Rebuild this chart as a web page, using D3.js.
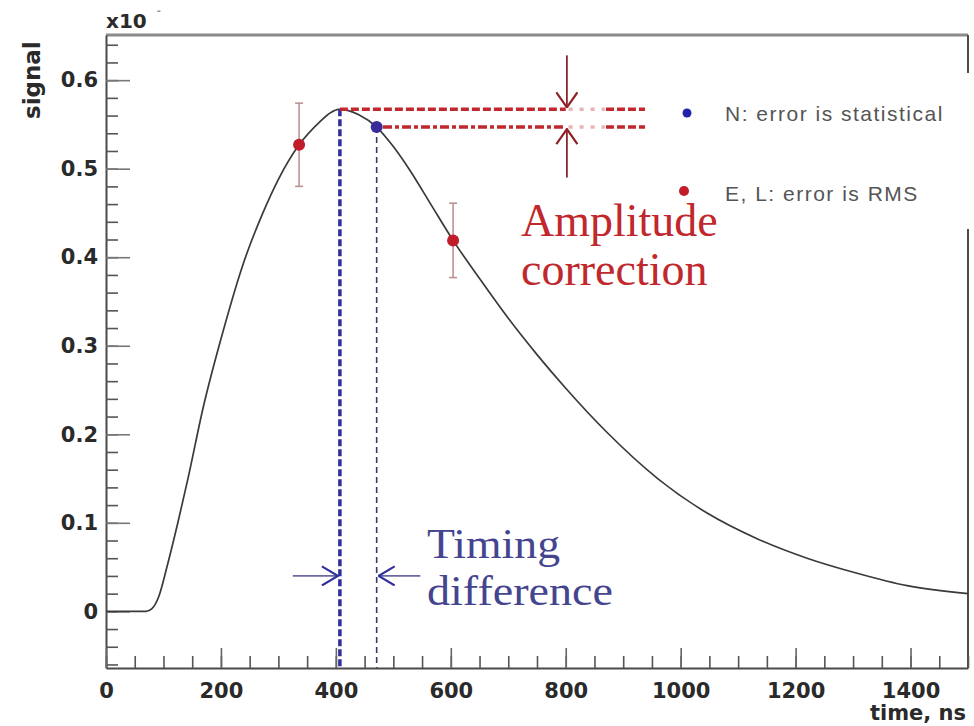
<!DOCTYPE html>
<html>
<head>
<meta charset="utf-8">
<script src="https://cdn.jsdelivr.net/npm/d3@7"></script>
<style>
  html, body { margin: 0; padding: 0; background: #fff; }
  svg { display: block; }
</style>
</head>
<body>
<div id="chart"></div>
<script>
(function () {
	// Signal shape (time in ns, signal in x10^-3)
	const timeNs = [0, 70, 80, 92, 106, 125, 143, 169, 204, 239, 273, 300, 336, 372, 390, 405, 440, 471, 500, 529, 565, 604, 651, 700, 750, 800, 872, 960, 1046, 1133, 1220, 1307, 1394, 1500];
	const signal = [0, 0, 0.003, 0.017, 0.05, 0.1, 0.151, 0.23, 0.317, 0.393, 0.45, 0.488, 0.527, 0.553, 0.563, 0.567, 0.561, 0.547, 0.525, 0.498, 0.46, 0.419, 0.375, 0.331, 0.29, 0.252, 0.202, 0.15, 0.111, 0.082, 0.06, 0.043, 0.029, 0.02];

	// E, L samples (error is RMS)
	const rmsT = [336, 604];
	const rmsV = [0.527, 0.419];
	const rmsErr = [0.047, 0.042];

	// N sample (statistical error)
	const statT = [471];
	const statV = [0.547];

	// fitted peak
	const peakT = 407;
	const peakV = 0.567;

	const xTicks = [0, 200, 400, 600, 800, 1000, 1200, 1400];
	const yTicks = [0, 0.1, 0.2, 0.3, 0.4, 0.5, 0.6];

	const RED = "#c0282d";
	const DARKRED = "#8e2228";
	const BLUE = "#2f2f9c";
	const INDIGO = "#45458f";
	const AXIS = "#4a4a4a";

	const width = 974, height = 726;
	const svg = d3.select("#chart").append("svg").attr("width", width).attr("height", height);

	const x = d3.scaleLinear().domain([0, 1500]).range([106, 968]);
	const y = d3.scaleLinear().domain([-0.064, 0.651]).range([668, 35]);

	const defs = svg.append("defs");
	// open V arrow heads
	function chevron(id, color, len, wide) {
		defs.append("marker")
			.attr("id", id)
			.attr("viewBox", `0 0 ${len + 2} ${wide + 2}`)
			.attr("refX", len + 1).attr("refY", wide / 2 + 1)
			.attr("markerWidth", len + 2).attr("markerHeight", wide + 2)
			.attr("markerUnits", "userSpaceOnUse")
			.attr("orient", "auto")
			.append("path")
			.attr("d", `M1,1 L${len + 1},${wide / 2 + 1} L1,${wide + 1}`)
			.attr("fill", "none")
			.attr("stroke", color)
			.attr("stroke-width", 2.2);
	}
	chevron("headRed", DARKRED, 15, 21);
	chevron("headBlue", BLUE, 16, 19);

	// frame
	const frame = svg.append("g").attr("stroke", AXIS).attr("stroke-width", 2).attr("fill", "none");
	frame.append("line").attr("x1", x(0)).attr("x2", x(1500)).attr("y1", y.range()[1]).attr("y2", y.range()[1]).attr("stroke", "#8a8a8a").attr("stroke-width", 3);
	frame.append("line").attr("x1", x(1500)).attr("x2", x(1500)).attr("y1", y.range()[1]).attr("y2", y(0.608));
	frame.append("line").attr("x1", x(1500)).attr("x2", x(1500)).attr("y1", y(0.432)).attr("y2", y.range()[0]);

	const tickFont = "'DejaVu Sans', sans-serif";

	// y axis: minor then major
	const yMinor = d3.range(-0.06, 0.645, 0.02).map(v => +v.toFixed(2));
	svg.append("g").attr("transform", `translate(${x(0)},0)`)
		.call(d3.axisLeft(y).tickValues(yMinor).tickSize(-12).tickSizeOuter(0).tickFormat(""))
		.call(g => g.selectAll("line").attr("stroke", "#555").attr("stroke-width", 1.6))
		.call(g => g.select(".domain").attr("stroke", AXIS).attr("stroke-width", 2));
	svg.append("g").attr("transform", `translate(${x(0)},0)`)
		.call(d3.axisLeft(y).tickValues(yTicks).tickSize(-24).tickSizeOuter(0).tickPadding(8).tickFormat(d => d === 0 ? "0" : d3.format(".1f")(d)))
		.call(g => g.select(".domain").remove())
		.call(g => g.selectAll("line").attr("stroke", "#777").attr("stroke-width", 1.6))
		.call(g => g.selectAll("text").attr("font-family", tickFont).attr("font-weight", "bold").attr("font-size", 21).attr("fill", "#2a2a2a"));

	// x axis
	const xMinor = d3.range(0, 1501, 50);
	svg.append("g").attr("transform", `translate(0,${y.range()[0]})`)
		.call(d3.axisBottom(x).tickValues(xMinor).tickSize(-12).tickSizeOuter(0).tickFormat(""))
		.call(g => g.selectAll("line").attr("stroke", "#555").attr("stroke-width", 1.6))
		.call(g => g.select(".domain").attr("stroke", AXIS).attr("stroke-width", 2));
	svg.append("g").attr("transform", `translate(0,${y.range()[0]})`)
		.call(d3.axisBottom(x).tickValues(xTicks).tickSize(-20).tickSizeOuter(0).tickPadding(15).tickFormat(d3.format("d")))
		.call(g => g.select(".domain").remove())
		.call(g => g.selectAll("line").attr("stroke", "#666").attr("stroke-width", 1.6))
		.call(g => g.selectAll("text").attr("font-family", tickFont).attr("font-weight", "bold").attr("font-size", 21).attr("fill", "#2a2a2a"));

	// axis titles
	svg.append("text")
		.attr("transform", `translate(${x(0) - 66},${y(0.6)}) rotate(-90)`)
		.attr("text-anchor", "middle")
		.attr("font-family", tickFont).attr("font-weight", "bold").attr("font-size", 23)
		.attr("fill", "#2a2a2a")
		.text("signal");

	svg.append("text")
		.attr("x", 966).attr("y", 720)
		.attr("text-anchor", "end")
		.attr("font-family", tickFont).attr("font-weight", "bold").attr("font-size", 21)
		.attr("fill", "#2a2a2a")
		.text("time, ns");

	const exp = svg.append("text")
		.attr("x", x(0)).attr("y", 28)
		.attr("font-family", tickFont).attr("font-weight", "bold").attr("font-size", 20)
		.attr("fill", "#2a2a2a");
	exp.append("tspan").text("x10");
	exp.append("tspan").attr("dx", 10).attr("dy", -14).attr("font-size", 10).attr("fill", "#999").text("-");

	// signal curve
	const line = d3.line().x(d => x(d[0])).y(d => y(d[1])).curve(d3.curveMonotoneX);
	svg.append("path")
		.datum(d3.zip(timeNs, signal))
		.attr("d", line)
		.attr("fill", "none")
		.attr("stroke", "#3a3a3a")
		.attr("stroke-width", 1.7);

	// timing lines (blue verticals)
	svg.append("line")
		.attr("x1", x(peakT)).attr("x2", x(peakT))
		.attr("y1", y(peakV)).attr("y2", y.range()[0])
		.attr("stroke", BLUE).attr("stroke-width", 3.5)
		.attr("stroke-dasharray", "7,3");
	svg.append("line")
		.attr("x1", x(statT[0])).attr("x2", x(statT[0]))
		.attr("y1", y(statV[0])).attr("y2", y.range()[0])
		.attr("stroke", "#3a3a66").attr("stroke-width", 1.6)
		.attr("stroke-dasharray", "6,4");

	// amplitude lines (red horizontals)
	const amp = svg.append("g").attr("stroke", RED).attr("stroke-width", 3.5);
	amp.append("line").attr("x1", x(peakT)).attr("x2", x(800)).attr("y1", y(peakV)).attr("y2", y(peakV)).attr("stroke-dasharray", "8,3");
	amp.append("line").attr("x1", x(805)).attr("x2", x(868)).attr("y1", y(peakV)).attr("y2", y(peakV)).attr("stroke-dasharray", "4,7").attr("opacity", 0.35);
	amp.append("line").attr("x1", x(870)).attr("x2", x(938)).attr("y1", y(peakV)).attr("y2", y(peakV)).attr("stroke-dasharray", "8,3");
	amp.append("line").attr("x1", x(482)).attr("x2", x(800)).attr("y1", y(statV[0])).attr("y2", y(statV[0])).attr("stroke-dasharray", "9,3,4,3");
	amp.append("line").attr("x1", x(805)).attr("x2", x(868)).attr("y1", y(statV[0])).attr("y2", y(statV[0])).attr("stroke-dasharray", "4,7").attr("opacity", 0.35);
	amp.append("line").attr("x1", x(870)).attr("x2", x(938)).attr("y1", y(statV[0])).attr("y2", y(statV[0])).attr("stroke-dasharray", "8,3");

	// amplitude arrows
	svg.append("line")
		.attr("x1", x(802)).attr("x2", x(802)).attr("y1", y(0.628)).attr("y2", y(peakV) - 2)
		.attr("stroke", DARKRED).attr("stroke-width", 1.8).attr("marker-end", "url(#headRed)");
	svg.append("line")
		.attr("x1", x(802)).attr("x2", x(802)).attr("y1", y(0.49)).attr("y2", y(statV[0]) + 2)
		.attr("stroke", DARKRED).attr("stroke-width", 1.8).attr("marker-end", "url(#headRed)");

	// timing arrows
	svg.append("line")
		.attr("x1", x(325)).attr("x2", x(peakT) - 2).attr("y1", y(0.04)).attr("y2", y(0.04))
		.attr("stroke", "#6a6aa0").attr("stroke-width", 1.8).attr("marker-end", "url(#headBlue)");
	svg.append("line")
		.attr("x1", x(547)).attr("x2", x(statT[0]) + 2).attr("y1", y(0.04)).attr("y2", y(0.04))
		.attr("stroke", "#6a6aa0").attr("stroke-width", 1.8).attr("marker-end", "url(#headBlue)");

	// error bars for E, L
	const rms = d3.range(rmsT.length).map(i => ({ t: rmsT[i], v: rmsV[i], e: rmsErr[i] }));
	const eb = svg.append("g").attr("stroke", "#b99393").attr("stroke-width", 1.6);
	eb.selectAll("line.bar").data(rms).join("line")
		.attr("x1", d => x(d.t)).attr("x2", d => x(d.t))
		.attr("y1", d => y(d.v + d.e)).attr("y2", d => y(d.v - d.e));
	eb.selectAll("line.capT").data(rms).join("line").attr("class", "capT")
		.attr("x1", d => x(d.t) - 4).attr("x2", d => x(d.t) + 4)
		.attr("y1", d => y(d.v + d.e)).attr("y2", d => y(d.v + d.e));
	eb.selectAll("line.capB").data(rms).join("line").attr("class", "capB")
		.attr("x1", d => x(d.t) - 4).attr("x2", d => x(d.t) + 4)
		.attr("y1", d => y(d.v - d.e)).attr("y2", d => y(d.v - d.e));

	svg.append("g").selectAll("circle").data(rms).join("circle")
		.attr("cx", d => x(d.t)).attr("cy", d => y(d.v)).attr("r", 6)
		.attr("fill", "#c01c2a");

	svg.append("g").selectAll("circle").data(d3.zip(statT, statV)).join("circle")
		.attr("cx", d => x(d[0])).attr("cy", d => y(d[1])).attr("r", 6)
		.attr("fill", "#3a2a9a");

	// annotation texts
	const serif = "'Liberation Serif', 'Times New Roman', serif";
	const ampText = svg.append("text")
		.attr("font-family", serif).attr("font-size", 46).attr("fill", RED);
	ampText.append("tspan").attr("x", 521).attr("y", 236).text("Amplitude");
	ampText.append("tspan").attr("x", 521).attr("y", 285).text("correction");

	svg.append("text")
		.attr("font-family", serif).attr("font-size", 42).attr("fill", INDIGO)
		.attr("x", 427).attr("y", 558)
		.attr("textLength", 133).attr("lengthAdjust", "spacingAndGlyphs")
		.text("Timing");
	svg.append("text")
		.attr("font-family", serif).attr("font-size", 42).attr("fill", INDIGO)
		.attr("x", 427).attr("y", 605)
		.attr("textLength", 186).attr("lengthAdjust", "spacingAndGlyphs")
		.text("difference");

	// legend
	const legend = svg.append("g").attr("font-family", "'Liberation Sans', Arial, sans-serif").attr("font-size", 21).attr("fill", "#555");
	legend.append("circle").attr("cx", 687).attr("cy", 113).attr("r", 4.5).attr("fill", "#2222aa");
	legend.append("text").attr("x", 725).attr("y", 121).attr("letter-spacing", 1.5).text("N: error is statistical");
	legend.append("circle").attr("cx", 684).attr("cy", 191).attr("r", 5).attr("fill", "#c01c2a");
	legend.append("text").attr("x", 725).attr("y", 201).attr("letter-spacing", 1.5).text("E, L: error is RMS");
})();
</script>
</body>
</html>
